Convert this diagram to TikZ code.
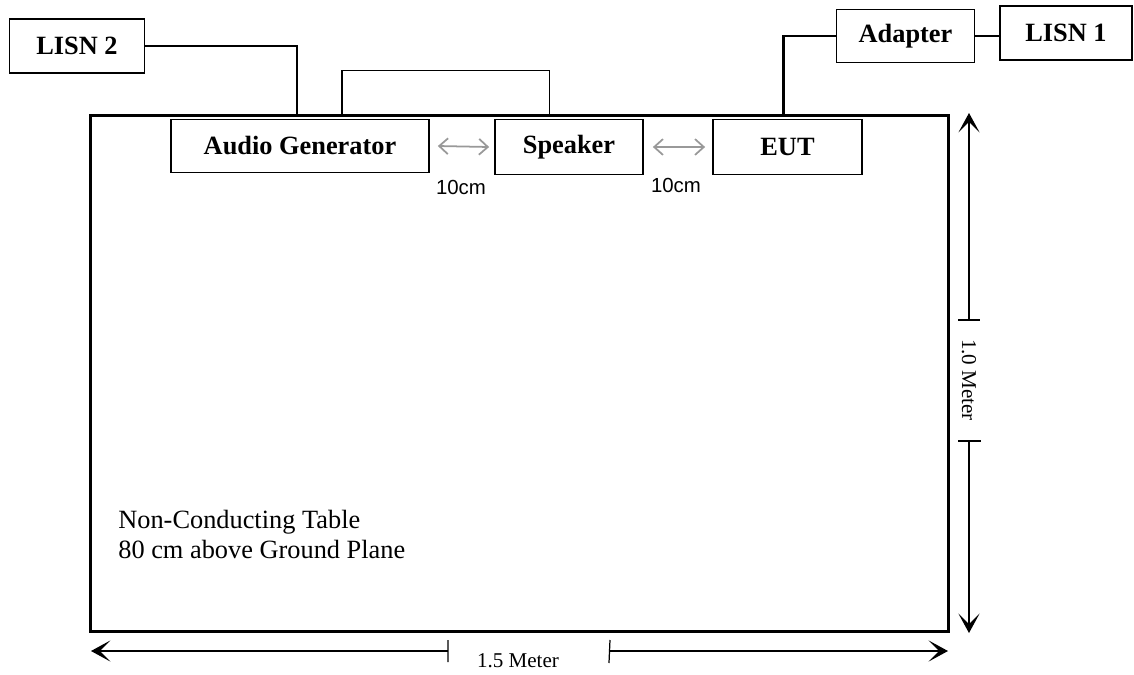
\documentclass[tikz,border=0pt]{standalone}
\usepackage{fontspec}
\setmainfont{Liberation Serif}
\newfontfamily\arialfont{Liberation Sans}
\usetikzlibrary{positioning,arrows.meta,calc}

\begin{document}
\begin{tikzpicture}[x=0.02cm, y=-0.02cm,
    box/.style={draw, line width=1pt, inner sep=0pt, align=center, font=\fontsize{15}{18}\selectfont\bfseries},
    cable/.style={line width=1.5pt},
    dim/.style={line width=0.7pt, -{Stealth[length=11pt,width=12pt,inset=6pt]}},
    gap/.style={draw=black!40, line width=1pt, {Straight Barb[length=5pt,width=9pt]}-{Straight Barb[length=5pt,width=9pt]}},
    lbl/.style={font=\arialfont\fontsize{11.6}{14}\selectfont, inner sep=0pt}]
    \useasboundingbox (0,0) rectangle (1134,674);
    % table and devices
    \node (table) [draw, line width=1.7pt, minimum width=17.16cm, minimum height=10.34cm] at (519.5,373.5) {};
    \node (lisn2) [box, minimum width=2.7cm, minimum height=1.08cm] at (77,46) {LISN 2};
    \node (audio) [box, minimum width=5.16cm, minimum height=1.06cm] at (300,146) {Audio Generator};
    \node (spk)   [box, minimum width=2.96cm, minimum height=1.1cm] at (569,147) {Speaker};
    \node (eut)   [box, minimum width=2.98cm, minimum height=1.1cm] at (787.5,147) {EUT};
    \node (adapter) [box, minimum width=2.76cm, minimum height=1.06cm] at (905.5,36) {Adapter};
    \node (lisn1) [box, minimum width=2.64cm, minimum height=1.08cm] at (1066,33) {LISN 1};
    % cables
    \draw[cable] (lisn2.east) -| ($(audio.north)+(-3,-3)$);
    \draw[line width=0.8pt] ($(audio.north)+(42,-3)$) -- ++(0,-45) -| ($(spk.north)+(-19.5,-3)$);
    \draw[cable, line width=1.3pt] ($(eut.north)+(-4,-3)$) |- (adapter.west);
    \draw[cable, line width=1.3pt] (adapter.east) -- (adapter.east -| lisn1.west);
    % 10 cm spacing
    \draw[gap] ($(audio.east)+(8,0)$) -- ($(spk.west)+(-5,0)$);
    \draw[gap] ($(spk.east)+(9,0)$) -- ($(eut.west)+(-7,0)$);
    \node (lbla) [lbl] at (461,187) {10cm};
    \node (lblb) [lbl] at (676,185) {10cm};
    % table text
    \node (note) [anchor=west, align=left, inner sep=0pt, font=\fontsize{15}{17.3}\selectfont] at (118,534.5) {Non-Conducting Table\\80 cm above Ground Plane};
    % dimensions
    \coordinate (vtop) at (969,113);
    \coordinate (vbot) at (969,633);
    \coordinate (hleft) at (91,651);
    \coordinate (hright) at (948,651);
    \node (vlbl) [rotate=-90, inner sep=0pt, font=\fontsize{12}{14}\selectfont] at (969,380) {1.0 Meter};
    \node (hlbl) [inner sep=0pt, font=\fontsize{12}{14}\selectfont] at (518,661) {1.5 Meter};
    \draw[dim] (969,320) -- (vtop);
    \draw[dim] (969,441) -- (vbot);
    \draw[line width=0.7pt] (958,320) -- (980,320) (958,441) -- (981,441);
    \draw[dim] (448,651) -- (hleft);
    \draw[dim] (609.5,651) -- (hright);
    \draw[line width=0.7pt] (448,640) -- (448,662) (610,640) -- (609,663);
\end{tikzpicture}
\end{document}
